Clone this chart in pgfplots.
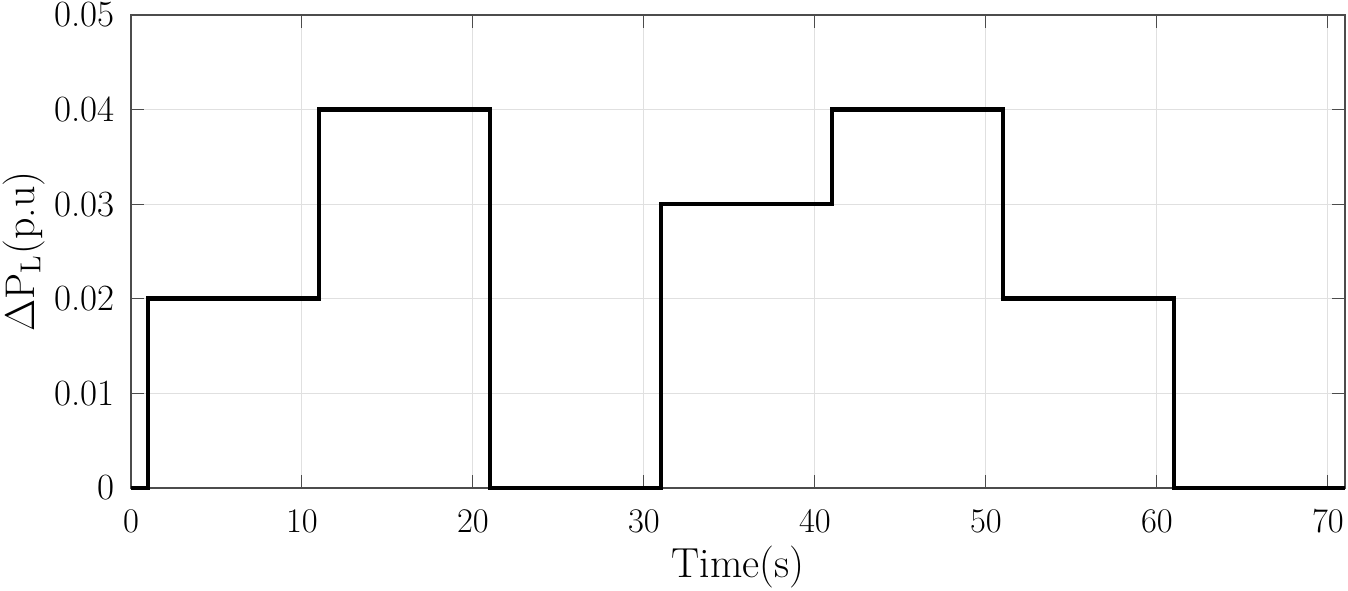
\documentclass[border=0pt]{standalone}
\usepackage{pgfplots}
\pgfplotsset{compat=1.18}
\begin{document}
\begin{tikzpicture}
\begin{axis}[
  name=ax,
  scale only axis,
  width=607pt, height=236.5pt,
  xmin=0, xmax=71, ymin=0, ymax=0.05,
  xtick={0,10,...,70},
  ytick={0,0.01,...,0.05},
  yticklabels={0,0.01,0.02,0.03,0.04,0.05},
  scaled y ticks=false,
  tick align=inside,
  major tick length=6.5pt,
  tick style={black!70, line width=0.5pt},
  axis line style={black!70, line width=0.6pt},
  grid=major,
  grid style={black!12, line width=0.5pt},
  tick label style={font=\fontsize{18.5}{22}\selectfont},
  label style={font=\fontsize{21}{25}\selectfont},
  yticklabel style={anchor=east, inner sep=0pt, xshift=-8pt},
  xticklabel style={anchor=north, inner sep=0pt, yshift=-11pt},
  xlabel={Time(s)},
  ylabel={$\Delta\mathrm{P_L}$(p.u)},
  xlabel style={at={([yshift=-45pt]axis description cs:0.5,0)}, anchor=base, inner sep=0pt},
  ylabel style={at={([xshift=-43pt]axis description cs:0,0.5)}, anchor=south, inner sep=0pt},
  clip=false,
]
\addplot[black, line width=2.3pt, const plot] coordinates {
(0,0) (1,0.02) (11,0.04) (21,0) (31,0.03) (41,0.04) (51,0.02) (61,0) (71,0)
};
\end{axis}
\pgfresetboundingbox
\path ([xshift=-65.5pt,yshift=-51.5pt]ax.south west) rectangle ([xshift=1.5pt,yshift=7.5pt]ax.north east);
\end{tikzpicture}
\end{document}
